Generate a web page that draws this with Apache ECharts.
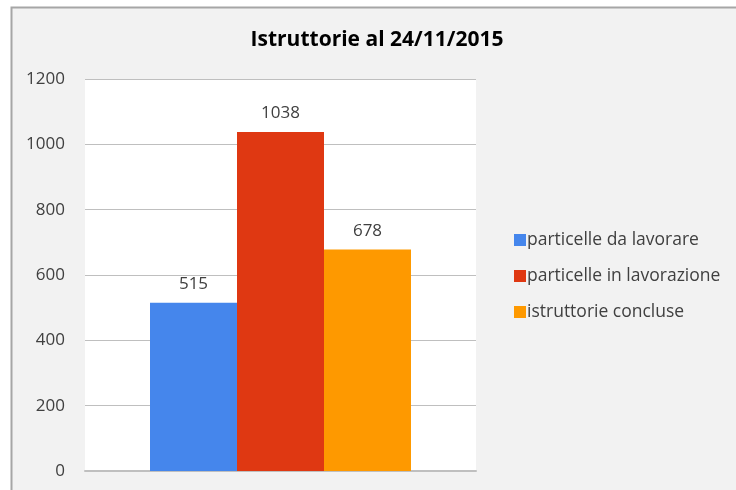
<!DOCTYPE html>
<html><head><meta charset="utf-8">
<script src="https://cdn.jsdelivr.net/npm/echarts@6/dist/echarts.min.js"></script>
<style>html,body{margin:0;padding:0;background:#fff}#c{width:736px;height:490px}</style>
</head><body><div id="c"></div>
<script>
const categories = [''];
const seriesNames = ['particelle da lavorare', 'particelle in lavorazione', 'istruttorie concluse'];
const valDaLavorare = [515];
const valInLavorazione = [1038];
const valConcluse = [678];
const colors = ['#4586ec', '#df3812', '#fe9900'];
const values = [valDaLavorare, valInLavorazione, valConcluse];

const chart = echarts.init(document.getElementById('c'));
const font = '"Open Sans", "Noto Sans", sans-serif';
chart.setOption({
  backgroundColor: '#ffffff',
  textStyle: { fontFamily: font },
  graphic: [{
    type: 'rect', z: -10, silent: true,
    shape: { x: 11.5, y: 7.5, width: 740, height: 500 },
    style: { fill: '#f2f2f2', stroke: '#a6a6a6', lineWidth: 2 }
  }],
  title: {
    text: 'Istruttorie al 24/11/2015', left: 372, textAlign: 'center', top: 25,
    textStyle: { fontFamily: font, fontWeight: 'bold', fontSize: 21, color: '#000' }
  },
  legend: {
    orient: 'vertical', left: 509, top: 226, itemGap: 18,
    itemWidth: 12, itemHeight: 12, icon: 'rect',
    textStyle: { fontFamily: font, fontSize: 17.5, color: '#404040', padding: [0, 0, 0, -4] },
    data: seriesNames
  },
  grid: { left: 85, right: 260, top: 79, bottom: 19, show: true, backgroundColor: '#ffffff', borderWidth: 0 },
  xAxis: {
    type: 'category', data: categories,
    axisLine: { lineStyle: { color: '#bfbfbf', width: 2 } },
    axisTick: { show: false }, axisLabel: { show: false }
  },
  yAxis: {
    type: 'value', min: 0, max: 1200, interval: 200,
    axisLine: { show: false }, axisTick: { show: false },
    axisLabel: { fontFamily: font, fontSize: 17, color: '#404040', margin: 20, formatter: v => String(v) },
    splitLine: { lineStyle: { color: '#bfbfbf', width: 1 } }
  },
  series: seriesNames.map((n, i) => ({
    name: n, type: 'bar', data: values[i], barWidth: 87, barGap: '0%',
    itemStyle: { color: colors[i] },
    label: { show: true, position: 'top', distance: 10, fontFamily: font, fontSize: 17, color: '#404040' }
  }))
});
</script></body></html>
